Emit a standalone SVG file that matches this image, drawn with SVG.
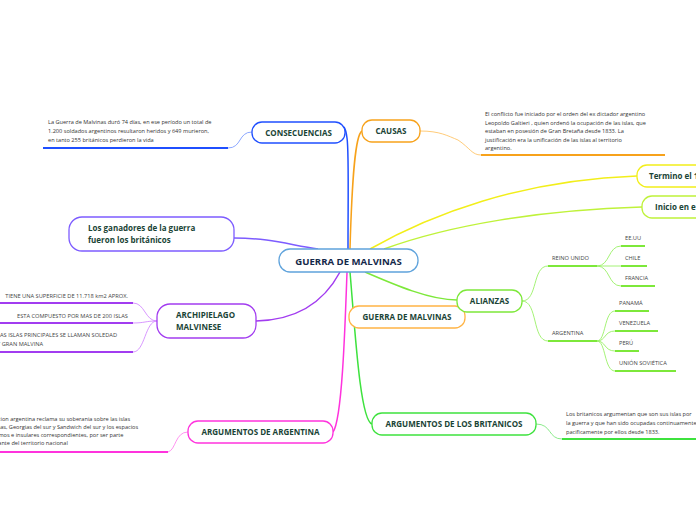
<svg xmlns="http://www.w3.org/2000/svg" width="696" height="520" viewBox="0 0 696 520">
<style>
.n{fill:#fff;stroke-width:1.3}
.lbl{font-family:"Open Sans","Liberation Sans",sans-serif;font-weight:bold;font-size:8px;fill:#1a4436}
.sm{font-family:"Open Sans","Liberation Sans",sans-serif;font-size:5.6px;fill:#333}
.up{font-family:"Open Sans","Liberation Sans",sans-serif;font-size:5.7px;fill:#444}
.c{fill:none;stroke-width:1.5}
.t{fill:none;stroke-width:0.9}
</style>
<rect width="696" height="520" fill="#fff"/>
<g id="connectors">
<path class="c" stroke="#1f4fff" d="M348,249 C348,200 349,150 347,138 Q346,130 344,127"/>
<path class="c" stroke="#f7a21b" d="M350,249 C352,180 355,135 362,131"/>
<path class="c" stroke="#f2ee1a" d="M370,249 C430,215 520,180 637,176"/>
<path class="c" stroke="#bff23a" d="M384,249 C450,225 540,210 642,207"/>
<path class="c" stroke="#7d5cff" d="M234,238 C270,238 290,245 318,249"/>
<path class="c" stroke="#a23cf0" d="M256,321 C300,320 325,300 340,272"/>
<path class="c" stroke="#ff33dd" d="M347,272 C345,330 342,420 333,432"/>
<path class="c" stroke="#3ee23e" d="M350,272 C355,330 360,420 372,424"/>
<path class="c" stroke="#7de83a" d="M365,272 C395,285 430,300 457,300"/>
<path class="t" stroke="#7f9dff" d="M252,132 C238,132 242,148 228,148"/>
<path class="t" stroke="#ffc56a" d="M420,131 C440,131 448,136 458,140 C470,148 472,155 481,155"/>
<path class="t" stroke="#7ee87e" d="M536,424 C552,424 548,439 562,439"/>
<path class="t" stroke="#ff88ee" d="M188,432 C175,432 176,450 168,452"/>
<path class="t" stroke="#d48cff" d="M157,321 C145,321 145,303 133,303"/>
<path class="t" stroke="#d48cff" d="M157,321 C145,321 145,323 133,323"/>
<path class="t" stroke="#d48cff" d="M157,321 C145,321 145,352 133,352"/>
<path class="t" stroke="#9af066" d="M522,301 C538,301 532,266 548,266"/>
<path class="t" stroke="#9af066" d="M522,301 C538,301 532,341 548,341"/>
<path class="t" stroke="#9af066" d="M597,266 C610,266 608,246 621,246"/>
<path class="t" stroke="#9af066" d="M597,266 L621,266"/>
<path class="t" stroke="#9af066" d="M597,266 C610,266 608,286 621,286"/>
<path class="t" stroke="#9af066" d="M597,341 C606,341 604,311 615,311"/>
<path class="t" stroke="#9af066" d="M597,341 C606,341 604,331 615,331"/>
<path class="t" stroke="#9af066" d="M597,341 C606,341 604,351 615,351"/>
<path class="t" stroke="#9af066" d="M597,341 C606,341 604,371 615,371"/>
</g>
<g id="center">
<rect class="n" x="279" y="249" width="139" height="23" rx="11" stroke="#5fa3dc"/>
<text x="348.5" y="264.5" text-anchor="middle" font-family="Open Sans, Liberation Sans, sans-serif" font-weight="bold" font-size="9.6" fill="#14284a">GUERRA DE MALVINAS</text>
</g>
<g id="consecuencias">
<rect class="n" x="252" y="122" width="93" height="21" rx="10" stroke="#1f4fff"/>
<text class="lbl" x="298.5" y="135.5" text-anchor="middle">CONSECUENCIAS</text>
</g>
<g id="consecuencias-text">
<text class="sm" x="48" y="124">La Guerra de Malvinas duró 74 días, en ese período un total de</text>
<text class="sm" x="48" y="133">1.200 soldados argentinos resultaron heridos y 649 murieron,</text>
<text class="sm" x="48" y="142">en tanto 255 británicos perdieron la vida</text>
<line x1="43" y1="148" x2="228" y2="148" stroke="#1f4fff" stroke-width="2.2"/>
</g>
<g id="causas">
<rect class="n" x="362" y="120" width="58" height="22" rx="10" stroke="#f7a21b"/>
<text class="lbl" x="391" y="134" text-anchor="middle">CAUSAS</text>
</g>
<g id="causas-text">
<text class="sm" x="485" y="116">El conflicto fue iniciado por el orden del ex dictador argentino</text>
<text class="sm" x="485" y="124.6">Leopoldo Galtieri , quien ordenó la ocupación de las islas, que</text>
<text class="sm" x="485" y="133.2">estaban en posesión de Gran Bretaña desde 1833. La</text>
<text class="sm" x="485" y="141.8">justificación era la unificación de las islas al territorio</text>
<text class="sm" x="485" y="150.4">argentino.</text>
<line x1="481" y1="155" x2="665" y2="155" stroke="#f7a21b" stroke-width="2"/>
</g>
<g id="termino">
<rect class="n" x="637" y="165" width="90" height="22" rx="10" stroke="#f2ee1a"/>
<text class="lbl" x="649" y="179">Termino el 1</text>
</g>
<g id="inicio">
<rect class="n" x="642" y="196" width="90" height="22" rx="10" stroke="#bff23a"/>
<text class="lbl" x="655" y="210">Inicio en e</text>
</g>
<g id="ganadores">
<rect class="n" x="69" y="217" width="165" height="34" rx="13" stroke="#7d5cff"/>
<text class="lbl" x="88" y="231">Los ganadores de la guerra</text>
<text class="lbl" x="88" y="243">fueron los británicos</text>
</g>
<g id="archipielago">
<rect class="n" x="157" y="304" width="99" height="34" rx="13" stroke="#a23cf0"/>
<text class="lbl" x="176" y="318">ARCHIPIELAGO</text>
<text class="lbl" x="176" y="330">MALVINESE</text>
</g>
<g id="arch-1">
<text class="up" x="128" y="298" text-anchor="end">TIENE UNA SUPERFICIE DE 11.718 km2 APROX.</text>
<line x1="0" y1="303" x2="133" y2="303" stroke="#a23cf0" stroke-width="2"/>
</g>
<g id="arch-2">
<text class="up" x="128" y="318" text-anchor="end">ESTA COMPUESTO POR MAS DE 200 ISLAS</text>
<line x1="0" y1="323" x2="133" y2="323" stroke="#a23cf0" stroke-width="2"/>
</g>
<g id="arch-3">
<text class="up" x="-3" y="337">LAS ISLAS PRINCIPALES SE LLAMAN SOLEDAD</text>
<text class="up" x="-3" y="346">Y GRAN MALVINA</text>
<line x1="0" y1="352" x2="133" y2="352" stroke="#a23cf0" stroke-width="2"/>
</g>
<g id="guerra2">
<rect class="n" x="349" y="306" width="116" height="22" rx="10" stroke="#ffb446"/>
<text class="lbl" x="407" y="320" text-anchor="middle">GUERRA DE MALVINAS</text>
</g>
<g id="alianzas">
<rect class="n" x="457" y="290" width="65" height="22" rx="10" stroke="#7de83a"/>
<text class="lbl" x="489.5" y="304" text-anchor="middle">ALIANZAS</text>
</g>
<g id="reino-unido">
<text class="up" x="552" y="260">REINO UNIDO</text>
<line x1="548" y1="266" x2="597" y2="266" stroke="#7de83a" stroke-width="2"/>
</g>
<g id="eeuu">
<text class="up" x="625" y="240">EE.UU</text>
<line x1="621" y1="246" x2="645" y2="246" stroke="#7de83a" stroke-width="2"/>
</g>
<g id="chile">
<text class="up" x="625" y="260">CHILE</text>
<line x1="621" y1="266" x2="647" y2="266" stroke="#7de83a" stroke-width="2"/>
</g>
<g id="francia">
<text class="up" x="625" y="280">FRANCIA</text>
<line x1="621" y1="286" x2="655" y2="286" stroke="#7de83a" stroke-width="2"/>
</g>
<g id="argentina">
<text class="up" x="552" y="335">ARGENTINA</text>
<line x1="548" y1="341" x2="597" y2="341" stroke="#7de83a" stroke-width="2"/>
</g>
<g id="panama">
<text class="up" x="619" y="305">PANAMÁ</text>
<line x1="615" y1="311" x2="649" y2="311" stroke="#7de83a" stroke-width="2"/>
</g>
<g id="venezuela">
<text class="up" x="619" y="325">VENEZUELA</text>
<line x1="615" y1="331" x2="658" y2="331" stroke="#7de83a" stroke-width="2"/>
</g>
<g id="peru">
<text class="up" x="619" y="345">PERÚ</text>
<line x1="615" y1="351" x2="639" y2="351" stroke="#7de83a" stroke-width="2"/>
</g>
<g id="urss">
<text class="up" x="619" y="365">UNIÓN SOVIÉTICA</text>
<line x1="615" y1="371" x2="676" y2="371" stroke="#7de83a" stroke-width="2"/>
</g>
<g id="arg-argentina">
<rect class="n" x="188" y="421" width="145" height="22" rx="10" stroke="#ff33dd"/>
<text class="lbl" x="260.5" y="435" text-anchor="middle">ARGUMENTOS DE ARGENTINA</text>
</g>
<g id="arg-argentina-text">
<text class="sm" x="-17" y="421">La Nacion argentina reclama su soberania sobre las islas</text>
<text class="sm" x="-17" y="429">Malvinas, Georgias del sur y Sandwich del sur y los espacios</text>
<text class="sm" x="-17" y="437">marítimos e insulares correspondientes, por ser parte</text>
<text class="sm" x="-17" y="445">integrante del territorio nacional</text>
<line x1="0" y1="452" x2="168" y2="452" stroke="#ff33dd" stroke-width="2"/>
</g>
<g id="arg-britanicos">
<rect class="n" x="372" y="413" width="164" height="22" rx="10" stroke="#3ee23e"/>
<text class="lbl" x="454" y="427" text-anchor="middle">ARGUMENTOS DE LOS BRITANICOS</text>
</g>
<g id="arg-britanicos-text">
<text class="sm" x="566" y="416" font-size="5.9">Los britanicos argumentan que son sus islas por</text>
<text class="sm" x="566" y="425" font-size="5.9">la guerra y que han sido ocupadas continuamente</text>
<text class="sm" x="566" y="434" font-size="5.9">pacificamente por ellos desde 1833.</text>
<line x1="562" y1="439" x2="700" y2="439" stroke="#3ee23e" stroke-width="2"/>
</g>
</svg>
